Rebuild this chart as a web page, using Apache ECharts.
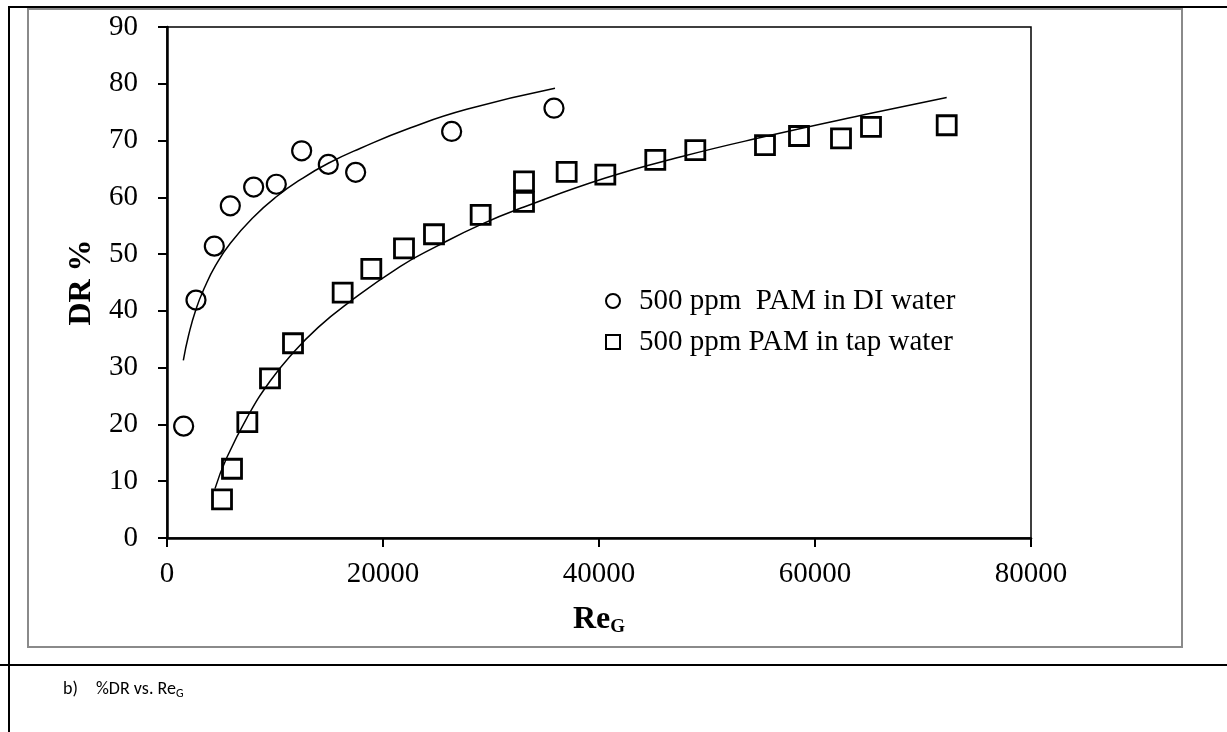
<!DOCTYPE html>
<html>
<head>
<meta charset="utf-8">
<script src="https://cdn.jsdelivr.net/npm/echarts@6/dist/echarts.min.js"></script>
<style>
  html, body { margin: 0; padding: 0; background: #fff; }
  #chart { width: 1227px; height: 732px; }
</style>
</head>
<body>
<div id="chart"></div>
<script>
// ---- data ----
const diName = '500 ppm  PAM in DI water';
const tapName = '500 ppm PAM in tap water';

const diX = [1543, 2685, 4383, 5864, 8025, 10123, 12469, 14938, 17469, 26358, 35833];
const diY = [19.7, 41.9, 51.4, 58.5, 61.8, 62.3, 68.2, 65.8, 64.4, 71.6, 75.7];

const tapX = [5093, 6019, 7438, 9537, 11667, 16265, 18917, 21944, 24722, 29043, 33056, 33056, 37006, 40586, 45213, 48917, 55370, 58519, 62407, 65185, 72194];
const tapY = [6.8, 12.2, 20.4, 28.1, 34.3, 43.2, 47.4, 51.0, 53.5, 56.9, 59.2, 62.8, 64.5, 64.0, 66.6, 68.3, 69.2, 70.8, 70.4, 72.4, 72.7];

// trend curves
const diFitX = [1512, 2000, 2685, 3500, 4500, 5864, 8000, 10123, 12500, 14938, 17870, 22500, 27750, 35926];
const diFitY = [31.3, 35.7, 40.3, 44.2, 48.0, 51.9, 56.5, 60.1, 63.3, 66.0, 68.6, 72.2, 75.5, 79.2];

const tapFitX = [4444, 5500, 7438, 9537, 11667, 14000, 16636, 21574, 25000, 29043, 33056, 40586, 47500, 55370, 65185, 72194];
const tapFitY = [8.7, 14.0, 21.3, 27.6, 32.6, 37.1, 41.2, 47.8, 51.4, 55.2, 58.3, 63.4, 67.1, 70.7, 74.8, 77.6];

const xTicks = { min: 0, max: 80000, interval: 20000 };
const yTicks = { min: 0, max: 90, interval: 10 };

// ---- build ----
const zip = (xs, ys) => xs.map((x, i) => [x, ys[i]]);
const serif = '"Liberation Serif", "Times New Roman", serif';
const capFont = 'Carlito, "Liberation Sans Narrow", "Liberation Sans", sans-serif';

const chart = echarts.init(document.getElementById('chart'), null, { renderer: 'canvas' });

chart.setOption({
  animation: false,
  backgroundColor: '#fff',
  grid: {
    left: 167, right: 196, top: 27, bottom: 194,
    show: true, borderColor: '#000', borderWidth: 1.5, backgroundColor: '#fff'
  },
  xAxis: {
    type: 'value',
    min: xTicks.min, max: xTicks.max, interval: xTicks.interval,
    splitLine: { show: false },
    axisLine: { onZero: false, lineStyle: { color: '#000', width: 2.5 } },
    axisTick: { inside: false, length: 9, lineStyle: { color: '#000', width: 2 } },
    axisLabel: { color: '#000', fontFamily: serif, fontSize: 29, margin: 22, formatter: v => String(v) },
    name: '{a|Re}{b|G}',
    nameLocation: 'middle',
    nameGap: 64,
    nameTextStyle: {
      rich: {
        a: { fontFamily: serif, fontWeight: 'bold', fontSize: 32, color: '#000' },
        b: { fontFamily: serif, fontWeight: 'bold', fontSize: 19, color: '#000', padding: [16, 0, 0, 0] }
      }
    }
  },
  yAxis: {
    type: 'value',
    min: yTicks.min, max: yTicks.max, interval: yTicks.interval,
    splitLine: { show: false },
    axisLine: { onZero: false, lineStyle: { color: '#000', width: 2.5 } },
    axisTick: { inside: false, length: 9, lineStyle: { color: '#000', width: 2 } },
    axisLabel: { color: '#000', fontFamily: serif, fontSize: 29, margin: 29 },
    name: 'DR %',
    nameLocation: 'middle',
    nameGap: 66,
    nameTextStyle: { fontFamily: serif, fontWeight: 'bold', fontSize: 32, color: '#000' }
  },
  legend: {
    data: [diName, tapName],
    orient: 'vertical',
    left: 600,
    top: 281,
    itemWidth: 14,
    itemHeight: 14,
    itemGap: 11,
    textStyle: { fontFamily: serif, fontSize: 29, color: '#000', lineHeight: 30, padding: [0, 0, 0, 14] }
  },
  series: [
    {
      name: 'diFit', type: 'line', data: zip(diFitX, diFitY), smooth: true,
      showSymbol: false, silent: true, z: 1,
      lineStyle: { color: '#000', width: 1.5 }
    },
    {
      name: 'tapFit', type: 'line', data: zip(tapFitX, tapFitY), smooth: true,
      showSymbol: false, silent: true, z: 1,
      lineStyle: { color: '#000', width: 1.5 }
    },
    {
      name: diName, type: 'scatter', data: zip(diX, diY),
      symbol: 'circle', symbolSize: 19, z: 3,
      itemStyle: { color: 'rgba(255,255,255,0)', borderColor: '#000', borderWidth: 2.2, opacity: 1 }
    },
    {
      name: tapName, type: 'scatter', data: zip(tapX, tapY),
      symbol: 'rect', symbolSize: 19, z: 3,
      itemStyle: { color: 'rgba(255,255,255,0)', borderColor: '#000', borderWidth: 2.8, opacity: 1 }
    }
  ],
  graphic: [
    { type: 'rect', silent: true, z: -10, shape: { x: 28, y: 9, width: 1154, height: 638 },
      style: { fill: null, stroke: '#8a8a8a', lineWidth: 2 } },
    { type: 'line', silent: true, shape: { x1: 9, y1: 7, x2: 1227, y2: 7 },
      style: { stroke: '#000', lineWidth: 2 } },
    { type: 'line', silent: true, shape: { x1: 9, y1: 6, x2: 9, y2: 732 },
      style: { stroke: '#000', lineWidth: 2 } },
    { type: 'line', silent: true, shape: { x1: 0, y1: 665, x2: 1227, y2: 665 },
      style: { stroke: '#000', lineWidth: 2 } },
    { type: 'text', silent: true, left: 63, top: 680,
      style: { text: 'b)', font: '18px ' + capFont, fill: '#000' } },
    { type: 'text', silent: true, left: 96, top: 680,
      style: { text: '{a|%DR vs. Re}{b|G}', fill: '#000',
        rich: {
          a: { font: '18px ' + capFont, fill: '#000' },
          b: { font: '12px ' + capFont, fill: '#000', padding: [9, 0, 0, 0] }
        } } }
  ]
});
</script>
</body>
</html>
